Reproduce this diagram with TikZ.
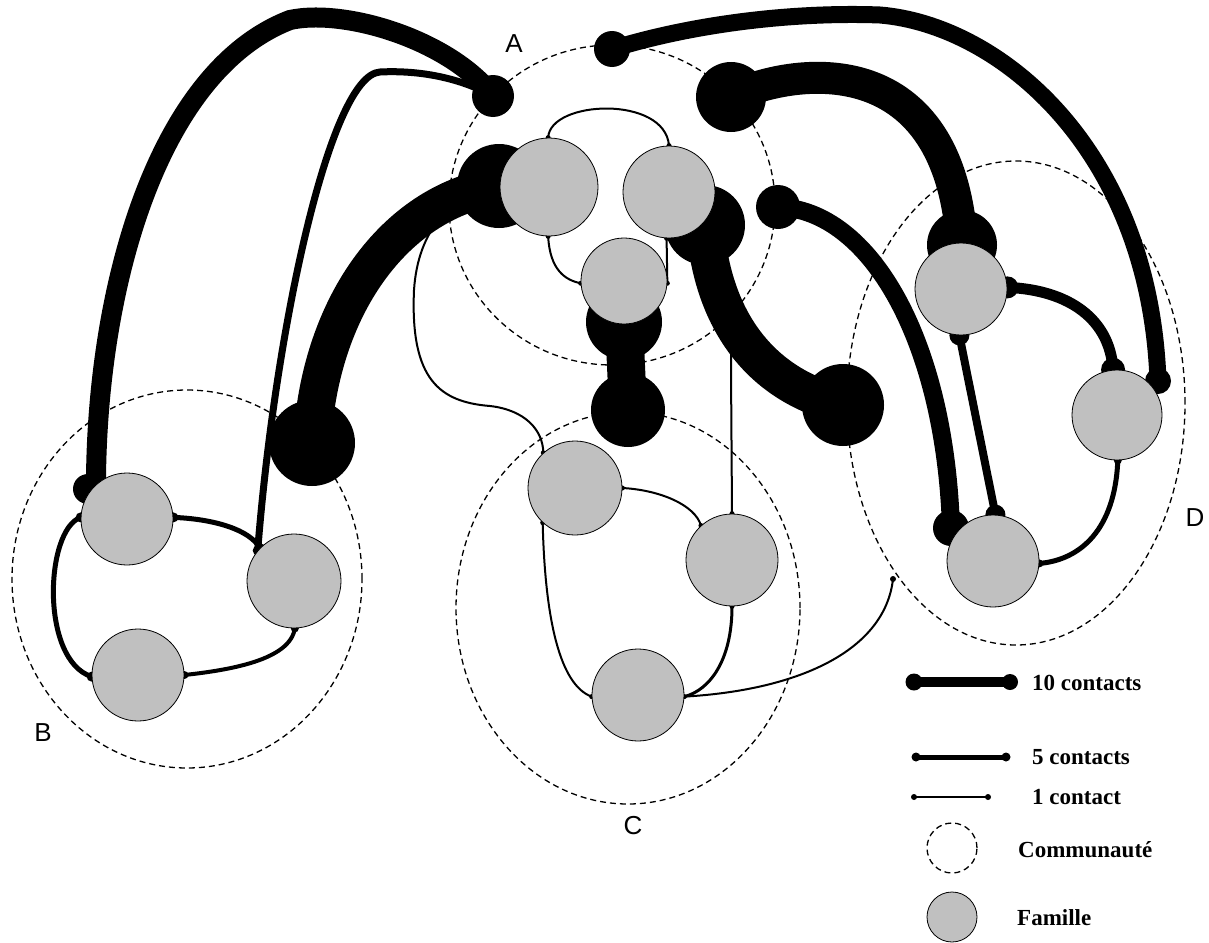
\documentclass[tikz,border=0pt]{standalone}
\usepackage{fontspec}
\setmainfont{Liberation Serif}
\setsansfont{Liberation Sans}
\usetikzlibrary{shapes.geometric}
\definecolor{famgrey}{RGB}{192,192,192}
\pgfdeclarelayer{bg}
\pgfdeclarelayer{lnk}
\pgfsetlayers{bg,lnk,main}
\tikzset{
  comm/.style={ellipse, draw, line width=1.3pt, dash pattern=on 6pt off 4pt, inner sep=0pt},
  fam/.style={circle, draw, fill=famgrey, line width=0.8pt, inner sep=0pt, minimum size=#1},
  blob/.style={circle, fill=black, inner sep=0pt, minimum size=#1},
  link/.style={line width=#1, line cap=round},
  lab/.style={font=\sffamily\fontsize{26}{30}\selectfont, inner sep=0pt},
  leg/.style={font=\bfseries\fontsize{23}{27}\selectfont, anchor=west, inner sep=0pt},
}
\begin{document}
\begin{tikzpicture}[x=1pt,y=-1pt]
\useasboundingbox (0,0) rectangle (1209,942);

% ---------- families ----------
\node[fam=98pt] (A1) at (549,187) {};
\node[fam=92pt] (A2) at (669,192) {};
\node[fam=86pt] (A3) at (624,281) {};
\node[fam=92pt] (B1) at (127,519) {};
\node[fam=94pt] (B2) at (294,581) {};
\node[fam=92pt] (B3) at (138,675) {};
\node[fam=94pt] (C1) at (575,488) {};
\node[fam=92pt] (C2) at (732,560) {};
\node[fam=92pt] (C3) at (638,695) {};
\node[fam=92pt] (D1) at (961,289) {};
\node[fam=90pt] (D2) at (1117,415) {};
\node[fam=92pt] (D3) at (993,561) {};

% ---------- communities ----------
\begin{pgfonlayer}{bg}
  \node[comm, minimum width=326pt, minimum height=320pt] (cA) at (612,205) {};
  \node[comm, minimum width=350pt, minimum height=378pt] (cB) at (187,579) {};
  \node[comm, minimum width=344pt, minimum height=392pt] (cC) at (628,608) {};
  \node[comm, minimum width=338pt, minimum height=484pt] (cD) at (1016,403) {};
\end{pgfonlayer}

% ---------- links ----------
\begin{pgfonlayer}{lnk}
  % thin links (1 contact)
  \draw[link=2pt] (A1.91) .. controls (550,100) and (665,95) .. (A2.90);
  \draw[link=2pt] (A1.269) .. controls (550,270) and (565,280) .. (A3.183);
  \draw[link=2pt] (A2.267) -- (A3.357);
  \draw[link=2pt] (A1.180) .. controls (450,195) and (418,230) .. (414,290)
        .. controls (410,380) and (440,402) .. (490,406)
        .. controls (525,410) and (543,430) .. (C1.132);
  \draw[link=2pt] (A2.330) .. controls (731,250) and (731,300) .. (731,370) -- (C2.90);
  \draw[link=2pt] (C1.0) .. controls (660,490) and (695,505) .. (C2.132);
  \draw[link=2pt] (C1.227) .. controls (545,620) and (560,685) .. (C3.182);
  \draw[link=3pt] (C2.270) .. controls (732,660) and (710,690) .. (C3.358);
  \node[blob=6pt] (dCD) at (893,579) {};
  \draw[link=2pt] (C3.358) .. controls (800,690) and (885,650) .. (dCD.center);
  \foreach \p in {A1.91,A2.90,A1.269,A3.183,A2.267,A3.357,C1.132,C2.90,C1.0,C2.132,C1.227,C3.182,C2.270,C3.358}
    \fill (\p) circle[radius=2.5];

  % medium links in B and D
  \draw[link=5pt] (B1.2) .. controls (215,519) and (250,530) .. (B2.136);
  \draw[link=5pt] (B1.178) .. controls (45,530) and (40,660) .. (B3.182);
  \draw[link=4pt] (B2.271) .. controls (290,660) and (230,670) .. (B3.0);
  \foreach \p in {B1.2,B2.136,B1.178,B3.182}
    \fill (\p) circle[radius=5];
  \foreach \p in {B2.271,B3.0}
    \fill (\p) circle[radius=4];
  \draw[link=8pt] (D1.268) -- (D3.87);
  \fill (D1.268) circle[radius=10];
  \fill (D3.87) circle[radius=10];
  \draw[link=11pt] (D1.2) .. controls (1070,290) and (1110,320) .. (D2.95);
  \fill (D1.2) circle[radius=11];
  \fill (D2.95) circle[radius=12];
  \draw[link=5pt] (D2.271) .. controls (1115,530) and (1080,560) .. (D3.357);
  \fill (D2.271) circle[radius=4];
  \fill (D3.357) circle[radius=4];

  % heavy links with end discs
  \node[blob=42pt] (dAtl) at (493,96) {};
  \node[blob=30pt] (dB1) at (88,489) {};
  \coordinate (eB1) at (96,478);
  \draw[link=20pt] (eB1) .. controls (98,280) and (160,70) .. (290,20)
        .. controls (345,8) and (450,40) .. (dAtl.center);
  \fill (B2.140) circle[radius=5];
  \draw[link=7pt] (B2.140) .. controls (275,330) and (330,75) .. (380,72)
        .. controls (420,70) and (460,78) .. (dAtl.center);

  \node[blob=84pt] (dAl) at (499,186) {};
  \node[blob=86pt] (dBbig) at (312,443) {};
  \draw[link=38pt] (dBbig.center) .. controls (320,300) and (400,200) .. (dAl.center);

  \node[blob=36pt] (dAtop) at (612,49) {};
  \node[blob=26pt] (dD2) at (1158,381) {};
  \draw[link=17pt] (dAtop.center) .. controls (700,22) and (800,12) .. (880,15)
        .. controls (1000,25) and (1150,150) .. (dD2.center);

  \node[blob=70pt] (dAr) at (731,97) {};
  \node[blob=70pt] (dD1) at (962,245) {};
  \draw[link=32pt] (dAr.center) .. controls (800,65) and (950,50) .. (dD1.center);

  \node[blob=80pt] (dA2r) at (705,225) {};
  \node[blob=82pt] (dDbig) at (843,405) {};
  \draw[link=38pt] (dA2r.center) .. controls (712,320) and (760,385) .. (dDbig.center);

  \node[blob=44pt] (dAtr) at (778,207) {};
  \node[blob=36pt] (dD3) at (951,528) {};
  \draw[link=18pt] (dAtr.center) .. controls (870,210) and (945,340) .. (dD3.center);

  \node[blob=76pt] (dA3b) at (624,322) {};
  \node[blob=74pt] (dC) at (628,410) {};
  \draw[link=38pt] (dA3b.center) -- (dC.center);
\end{pgfonlayer}

% ---------- community labels ----------
\node[lab] (labA) at (514,44) {A};
\node[lab] (labB) at (43,733) {B};
\node[lab] (labC) at (633,826) {C};
\node[lab] (labD) at (1195,518) {D};

% ---------- legend ----------
\node[blob=17pt] (l10a) at (914,682) {};
\node[blob=16pt] (l10b) at (1010,682) {};
\draw[link=10pt] (l10a.center) -- (l10b.center);
\node[leg] (t10) at (1032,683) {10 contacts};

\node[blob=9pt] (l5a) at (916,757) {};
\node[blob=9pt] (l5b) at (1006,757) {};
\draw[link=5pt] (l5a.center) -- (l5b.center);
\node[leg] (t5) at (1032,757) {5 contacts};

\node[blob=6pt] (l1a) at (914,797) {};
\node[blob=6pt] (l1b) at (988,797) {};
\draw[link=2pt] (l1a.center) -- (l1b.center);
\node[leg] (t1) at (1032,797) {1 contact};

\node[comm, minimum width=50pt, minimum height=50pt] (lcomm) at (952,848) {};
\node[leg] (tcomm) at (1018,850) {Communauté};

\node[fam=50pt] (lfam) at (952,917) {};
\node[leg] (tfam) at (1017,918) {Famille};
\end{tikzpicture}
\end{document}
